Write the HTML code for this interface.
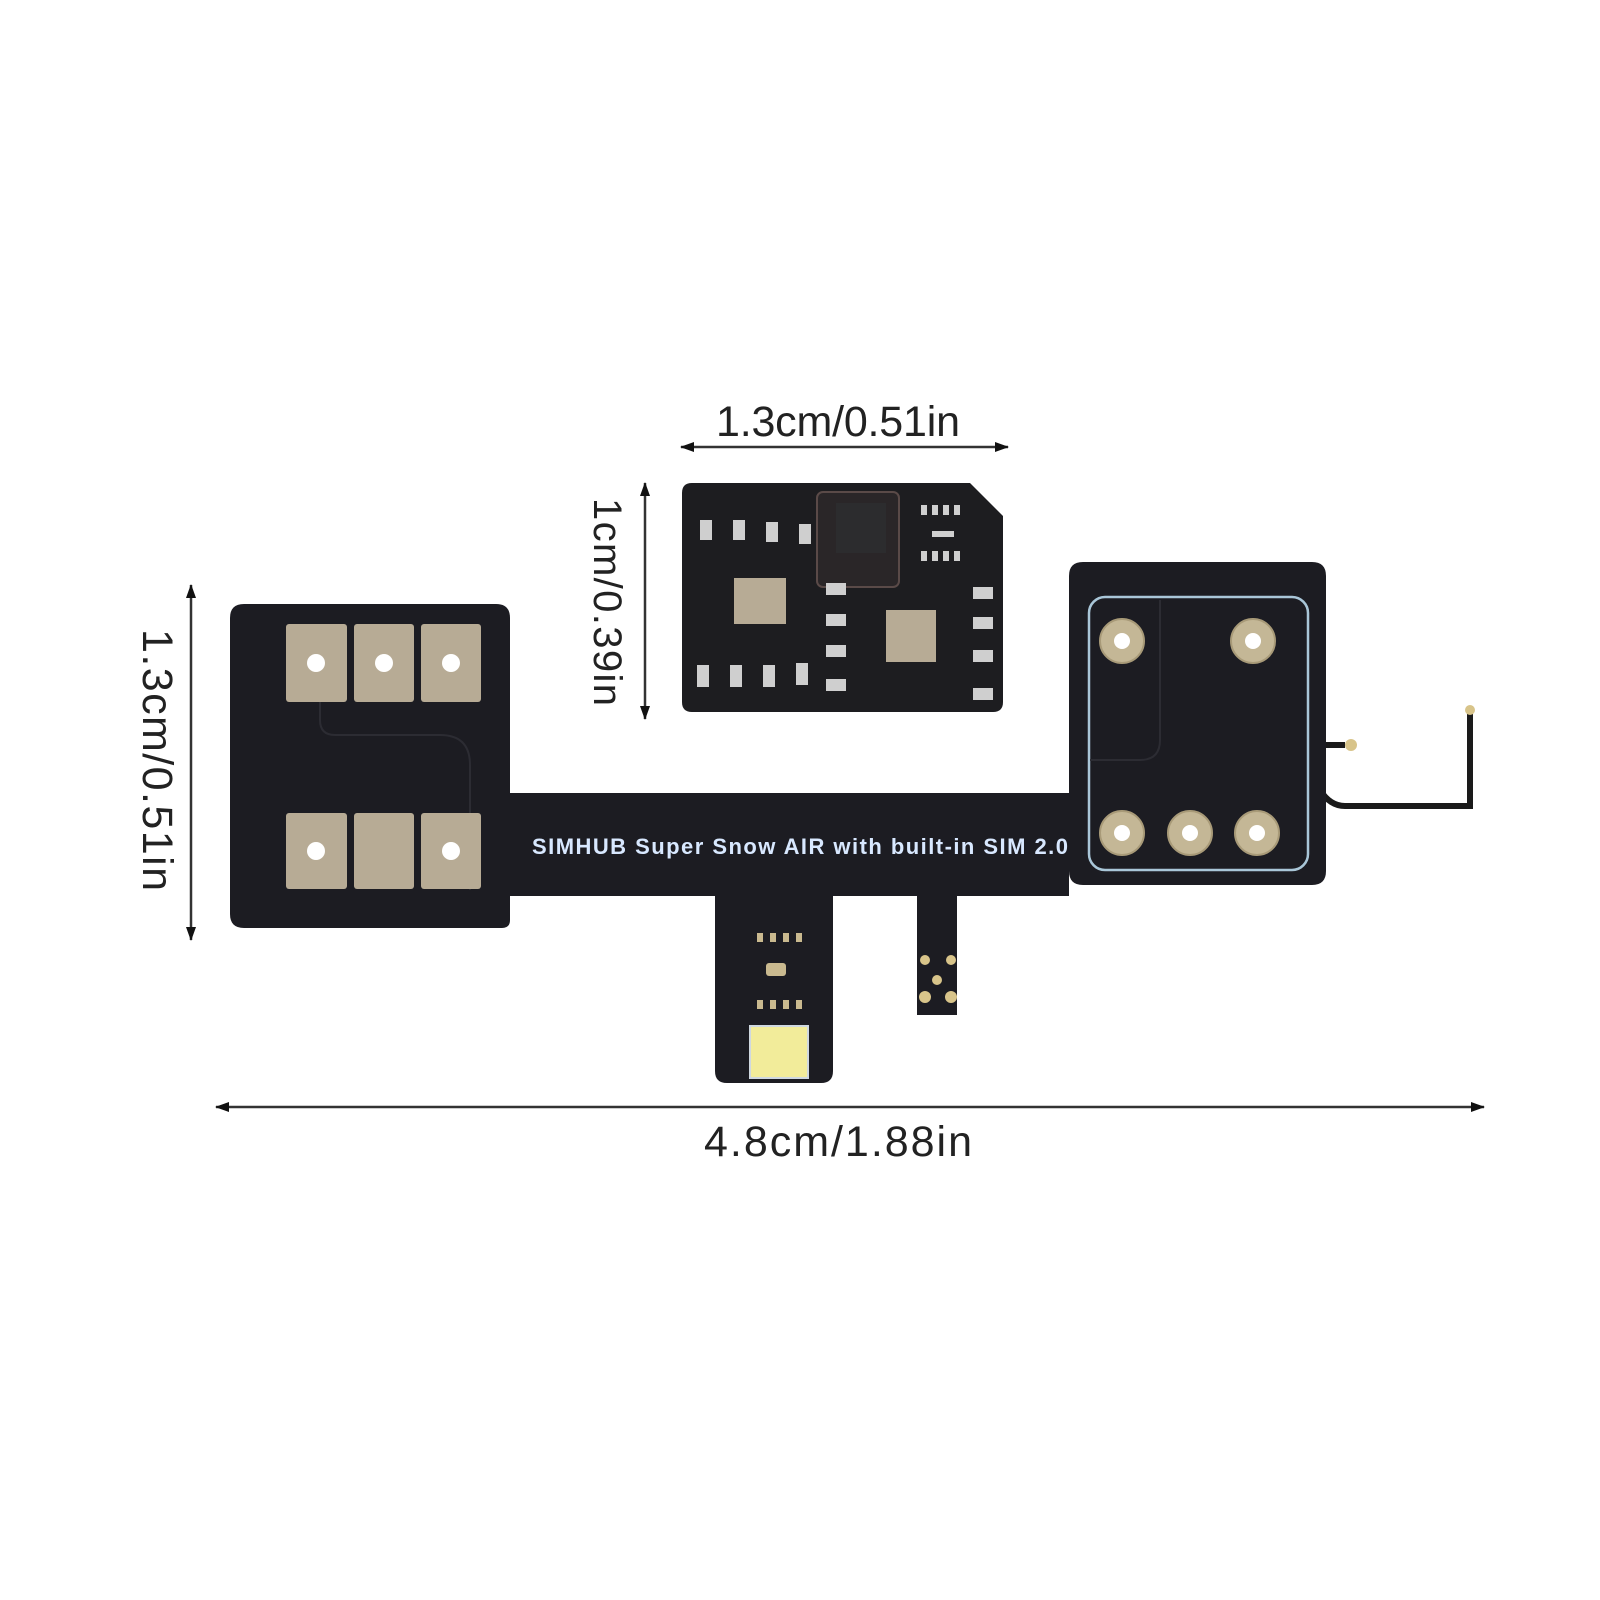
<!DOCTYPE html>
<html><head><meta charset="utf-8"><style>
html,body{margin:0;padding:0;background:#fff}
svg{display:block}
text{font-family:"Liberation Sans",sans-serif}
</style></head><body>
<svg width="1600" height="1600" viewBox="0 0 1600 1600" xmlns="http://www.w3.org/2000/svg">
<defs>
<marker id="ah" markerWidth="14" markerHeight="10" refX="13" refY="5" orient="auto-start-reverse" markerUnits="userSpaceOnUse"><path d="M0,0 L14,5 L0,10 Z" fill="#111"/></marker>
</defs>
<g stroke="#333" stroke-width="2.5" fill="none">
<line x1="681" y1="447" x2="1008" y2="447" marker-start="url(#ah)" marker-end="url(#ah)"/>
<line x1="645" y1="483" x2="645" y2="719" marker-start="url(#ah)" marker-end="url(#ah)"/>
<line x1="191" y1="585" x2="191" y2="940" marker-start="url(#ah)" marker-end="url(#ah)"/>
<line x1="216" y1="1107" x2="1484" y2="1107" marker-start="url(#ah)" marker-end="url(#ah)"/>
</g>
<text x="838" y="436" font-size="43" text-anchor="middle" fill="#222" textLength="244">1.3cm/0.51in</text>
<text x="838" y="1156" font-size="43" text-anchor="middle" fill="#222" textLength="268">4.8cm/1.88in</text>
<text transform="translate(594,602) rotate(90)" font-size="40" text-anchor="middle" fill="#222" textLength="208">1cm/0.39in</text>
<text transform="translate(143,760) rotate(90)" font-size="43" text-anchor="middle" fill="#222" textLength="262">1.3cm/0.51in</text>

<path d="M692,483 H970 L1003,516 V702 Q1003,712 993,712 H692 Q682,712 682,702 V493 Q682,483 692,483 Z" fill="#1d1d20"/>
<rect x="817" y="492" width="82" height="95" rx="6" fill="#2a2628" stroke="#5a4a48" stroke-width="2"/>
<rect x="836" y="503" width="50" height="50" fill="#2c2c2e"/>
<rect x="734" y="578" width="52" height="46" fill="#b7ab95"/>
<rect x="886" y="610" width="50" height="52" fill="#b7ab95"/>
<g fill="#cfcfcf">
<rect x="700" y="520" width="12" height="20"/><rect x="733" y="520" width="12" height="20"/><rect x="766" y="522" width="12" height="20"/><rect x="799" y="524" width="12" height="20"/>
<rect x="697" y="665" width="12" height="22"/><rect x="730" y="665" width="12" height="22"/><rect x="763" y="665" width="12" height="22"/><rect x="796" y="663" width="12" height="22"/>
<rect x="826" y="583" width="20" height="12"/><rect x="826" y="614" width="20" height="12"/><rect x="826" y="645" width="20" height="12"/><rect x="826" y="679" width="20" height="12"/>
<rect x="973" y="587" width="20" height="12"/><rect x="973" y="617" width="20" height="12"/><rect x="973" y="650" width="20" height="12"/><rect x="973" y="688" width="20" height="12"/>
<rect x="932" y="531" width="22" height="6"/>
<rect x="921" y="505" width="6" height="10"/><rect x="932" y="505" width="6" height="10"/><rect x="943" y="505" width="6" height="10"/><rect x="954" y="505" width="6" height="10"/>
<rect x="921" y="551" width="6" height="10"/><rect x="932" y="551" width="6" height="10"/><rect x="943" y="551" width="6" height="10"/><rect x="954" y="551" width="6" height="10"/>
</g>

<g stroke="#1a1a1a" stroke-width="6" fill="none">
<path d="M1320,745 H1345"/>
<path d="M1320,790 Q1330,806 1345,806 H1470 V706"/>
</g>
<circle cx="1351" cy="745" r="6" fill="#d8c48a"/>
<circle cx="1470" cy="710" r="5" fill="#d8c48a"/>

<path d="M244,604 H496 Q510,604 510,618 V793 H1069 V576 Q1069,562 1083,562 H1312 Q1326,562 1326,576 V871 Q1326,885 1312,885 H1083 Q1069,885 1069,871 V896 H957 V1015 H917 V896 H833 V1071 Q833,1083 821,1083 H727 Q715,1083 715,1071 V896 H510 V920 Q510,928 502,928 H244 Q230,928 230,914 V618 Q230,604 244,604 Z" fill="#1c1c22"/>
<rect x="1089" y="597" width="219" height="273" rx="16" fill="none" stroke="#a9c6d8" stroke-width="2.5"/>
<path d="M320,702 V720 Q320,735 335,735 H440 Q470,735 470,765 V890" fill="none" stroke="#2c2c33" stroke-width="2"/>
<path d="M1160,600 V740 Q1160,760 1140,760 H1090" fill="none" stroke="#2c2c33" stroke-width="2"/>
<g fill="#b7ab95">
<rect x="286" y="624" width="61" height="78" rx="3"/><rect x="354" y="624" width="60" height="78" rx="3"/><rect x="421" y="624" width="60" height="78" rx="3"/>
<rect x="286" y="813" width="61" height="76" rx="3"/><rect x="354" y="813" width="60" height="76" rx="3"/><rect x="421" y="813" width="60" height="76" rx="3"/>
</g>
<g fill="#fff">
<circle cx="316" cy="663" r="9"/><circle cx="384" cy="663" r="9"/><circle cx="451" cy="663" r="9"/>
<circle cx="316" cy="851" r="9"/><circle cx="451" cy="851" r="9"/>
</g>
<g fill="#c4b796" stroke="#a89a78" stroke-width="2">
<circle cx="1122" cy="641" r="22"/><circle cx="1253" cy="641" r="22"/>
<circle cx="1122" cy="833" r="22"/><circle cx="1190" cy="833" r="22"/><circle cx="1257" cy="833" r="22"/>
</g>
<g fill="#fff">
<circle cx="1122" cy="641" r="8"/><circle cx="1253" cy="641" r="8"/>
<circle cx="1122" cy="833" r="8"/><circle cx="1190" cy="833" r="8"/><circle cx="1257" cy="833" r="8"/>
</g>
<text x="800" y="854" font-size="22" font-weight="bold" text-anchor="middle" fill="#d8e8ff" textLength="536">SIMHUB Super Snow AIR with built-in SIM 2.0</text>
<g fill="#c9b98f">
<rect x="757" y="933" width="6" height="9"/><rect x="770" y="933" width="6" height="9"/><rect x="783" y="933" width="6" height="9"/><rect x="796" y="933" width="6" height="9"/>
<rect x="757" y="1000" width="6" height="9"/><rect x="770" y="1000" width="6" height="9"/><rect x="783" y="1000" width="6" height="9"/><rect x="796" y="1000" width="6" height="9"/>
<rect x="766" y="963" width="20" height="13" rx="3"/>
</g>
<rect x="750" y="1026" width="58" height="52" fill="#f2ec9a" stroke="#cfd8e0" stroke-width="2"/>
<g fill="#d8c48a">
<circle cx="925" cy="960" r="5"/><circle cx="951" cy="960" r="5"/><circle cx="937" cy="980" r="5"/><circle cx="925" cy="997" r="6"/><circle cx="951" cy="997" r="6"/>
</g>
</svg>
</body></html>
